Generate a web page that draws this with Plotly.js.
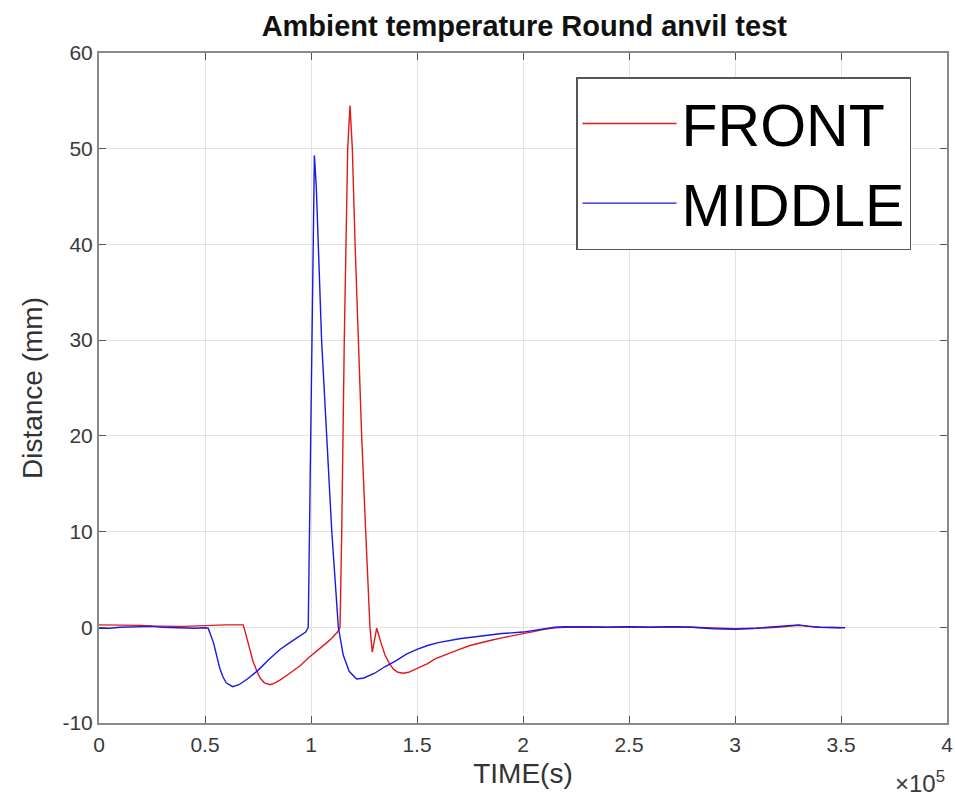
<!DOCTYPE html>
<html>
<head>
<meta charset="utf-8">
<script src="https://cdn.plot.ly/plotly-3.0.1.min.js"></script>
<style>html,body{margin:0;padding:0;background:#fff;}#chart{width:955px;height:801px;}</style>
</head>
<body>
<div id="chart"></div>
<script>
// Time in units of 1e5 s
var frontTime = [0, 0.05, 0.1, 0.15, 0.2, 0.25, 0.3, 0.35, 0.4, 0.45,
  0.5, 0.55, 0.6, 0.65, 0.68, 0.69, 0.70, 0.715, 0.727, 0.745,
  0.76, 0.78, 0.807, 0.83, 0.855, 0.9, 0.95, 0.987, 1.01, 1.04,
  1.075, 1.10, 1.125, 1.137, 1.145, 1.157, 1.173, 1.184, 1.195, 1.208,
  1.223, 1.239, 1.258, 1.278, 1.289, 1.30, 1.31, 1.33, 1.349, 1.37,
  1.39, 1.41, 1.435, 1.46, 1.5, 1.55, 1.585, 1.65, 1.7, 1.75,
  1.8, 1.85, 1.9, 1.95, 2.0, 2.05, 2.1, 2.15, 2.2, 2.3,
  2.4, 2.5, 2.6, 2.7, 2.8, 2.9, 3.0, 3.1, 3.2, 3.3,
  3.35, 3.4, 3.5];
var frontDist = [0.25, 0.25, 0.2, 0.25, 0.2, 0.15, 0.1, 0.1, 0.1, 0.15,
  0.15, 0.2, 0.25, 0.25, 0.25, -0.5, -1.4, -2.6, -3.6, -4.6,
  -5.3, -5.8, -6.0, -5.8, -5.5, -4.8, -4.0, -3.2, -2.8, -2.2,
  -1.6, -1.1, -0.5, 0, 10, 30, 50, 54.5, 50, 40,
  30, 20, 10, 0, -2.6, -1.2, -0.1, -1.6, -2.9, -3.8,
  -4.4, -4.7, -4.8, -4.7, -4.3, -3.8, -3.3, -2.7, -2.3, -1.9,
  -1.6, -1.35, -1.1, -0.9, -0.7, -0.45, -0.2, -0.05, 0, 0.05,
  0, 0.05, 0, 0.05, 0, -0.1, -0.15, -0.1, 0, 0.2,
  0.1, 0, -0.05];

var middleTime = [0, 0.05, 0.1, 0.15, 0.2, 0.25, 0.3, 0.35, 0.4, 0.45,
  0.5, 0.515, 0.54, 0.555, 0.57, 0.585, 0.60, 0.63, 0.66, 0.70,
  0.75, 0.80, 0.855, 0.90, 0.95, 0.975, 0.987, 0.995, 1.005, 1.016,
  1.025, 1.034, 1.05, 1.074, 1.098, 1.129, 1.152, 1.18, 1.215, 1.25,
  1.3, 1.35, 1.4, 1.45, 1.5, 1.55, 1.6, 1.7, 1.8, 1.9,
  2.0, 2.05, 2.1, 2.15, 2.2, 2.3, 2.4, 2.5, 2.6, 2.7,
  2.8, 2.9, 3.0, 3.1, 3.2, 3.3, 3.35, 3.4, 3.52];
var middleDist = [-0.1, -0.1, 0, 0.05, 0.1, 0.1, 0, -0.05, -0.1, -0.1,
  -0.05, -0.1, -1.6, -3.0, -4.3, -5.2, -5.8, -6.2, -6.0, -5.4,
  -4.5, -3.4, -2.3, -1.6, -0.9, -0.5, 0, 15, 35, 49.3,
  46, 40, 30, 20, 10, 0, -2.9, -4.6, -5.4, -5.3,
  -4.8, -4.1, -3.5, -2.8, -2.3, -1.9, -1.6, -1.2, -0.9, -0.65,
  -0.5, -0.35, -0.15, 0, 0.05, 0, 0, 0.05, 0, 0.05,
  0, -0.15, -0.2, -0.1, 0.05, 0.25, 0.1, 0, -0.05];

var xTicks = [0, 0.5, 1, 1.5, 2, 2.5, 3, 3.5, 4];
var yTicks = [-10, 0, 10, 20, 30, 40, 50, 60];

var FONT = 'Liberation Sans, Arial, Helvetica, sans-serif';

var traces = [
  {x: frontTime, y: frontDist, type: 'scatter', mode: 'lines', name: 'FRONT',
   legendgroup: 'a', line: {color: 'rgb(225,25,25)', width: 1.4}},
  {x: middleTime, y: middleDist, type: 'scatter', mode: 'lines', name: 'MIDDLE',
   legendgroup: 'b', line: {color: 'rgb(25,25,225)', width: 1.4}}
];

var axisCommon = {
  showline: true, linecolor: '#8a8a8a', linewidth: 2, mirror: 'ticks',
  ticks: 'inside', ticklen: 7, tickcolor: '#555', tickwidth: 1,
  showgrid: true, gridcolor: '#e3e3e3', gridwidth: 1,
  zeroline: false, tickfont: {family: FONT, size: 21, color: '#3a3a3a'}
};

var layout = {
  width: 955, height: 801,
  margin: {l: 99, r: 8, t: 53, b: 78},
  paper_bgcolor: '#fff', plot_bgcolor: '#fff',
  font: {family: FONT, color: '#262626'},
  title: {text: 'Ambient temperature Round anvil test', x: 0.549, xanchor: 'center',
          y: 0.968, yanchor: 'middle',
          font: {family: FONT, size: 29, weight: 'bold', color: '#111'}},
  xaxis: Object.assign({}, axisCommon, {
    range: [0, 4], tickvals: xTicks, ticktext: xTicks.map(String),
    ticklabelstandoff: 2,
    title: {text: 'TIME(s)', font: {family: FONT, size: 28, color: '#333'}, standoff: 8}
  }),
  yaxis: Object.assign({}, axisCommon, {
    range: [-10, 60], tickvals: yTicks, ticktext: yTicks.map(String),
    title: {text: 'Distance (mm)', font: {family: FONT, size: 28, color: '#333'}, standoff: 12}
  }),
  showlegend: true,
  legend: {x: 0.5625, y: 0.964, xanchor: 'left', yanchor: 'top',
           bgcolor: '#fff', bordercolor: '#555', borderwidth: 1.5,
           font: {family: FONT, size: 59, color: '#000'},
           traceorder: 'grouped', tracegroupgap: 0, itemwidth: 94},
  annotations: [
    {text: '×10<sup>5</sup>', xref: 'paper', yref: 'paper', x: 1.0, y: -0.114,
     xanchor: 'right', yanchor: 'bottom', showarrow: false,
     font: {family: FONT, size: 24, color: '#3a3a3a'}}
  ]
};

Plotly.newPlot('chart', traces, layout, {displayModeBar: false, staticPlot: true});
</script>
</body>
</html>
